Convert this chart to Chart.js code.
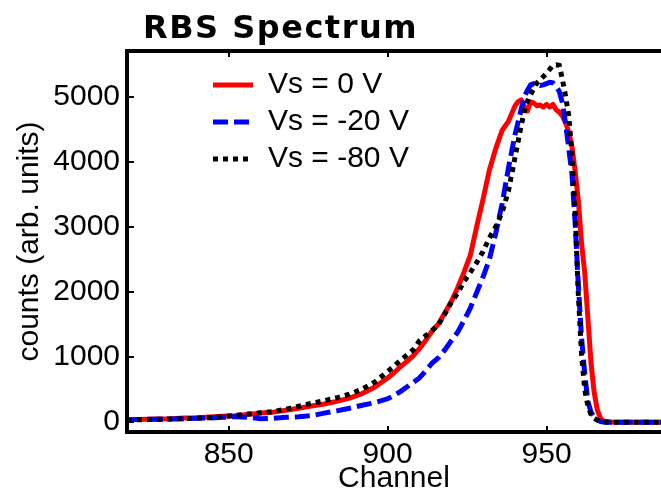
<!DOCTYPE html>
<html>
<head>
<meta charset="utf-8">
<script src="https://cdn.jsdelivr.net/npm/chart.js@4/dist/chart.umd.min.js"></script>
<style>
  html, body { margin: 0; padding: 0; background: #ffffff; }
  #wrap { width: 661px; height: 494px; position: relative; }
</style>
</head>
<body>
<div id="wrap"><canvas id="c" width="661" height="494"></canvas></div>
<script>
const chartTitle = 'RBS Spectrum';
const xAxisTitle = 'Channel';
const yAxisTitle = 'counts (arb. units)';
const seriesLabels = ['Vs = 0 V', 'Vs = -20 V', 'Vs = -80 V'];
const xTicks = [850, 900, 950];
const yTicks = [0, 1000, 2000, 3000, 4000, 5000];

const channels = [
  818,
  820, 824, 828, 832, 836, 840, 844, 848, 852, 856, 860, 864, 868, 872, 876, 880, 884, 888, 892, 896, 900,
  902, 904, 906, 908, 910, 912, 914, 916, 918, 920, 922, 924, 926, 928, 930, 932, 934, 936, 938, 940,
  941, 942, 943, 944, 945, 946, 947, 948, 949, 950, 951, 952, 953, 954, 955, 956, 957, 958, 959, 960,
  961, 962, 963, 964, 965, 966, 967, 968,
  970, 974, 978, 982, 986
];
const countsVs0 = [
  35,
  40, 45, 50, 55, 65, 70, 80, 90, 100, 120, 140, 155, 185, 215, 250, 280, 320, 370, 440, 540, 680,
  760, 850, 930, 1020, 1130, 1260, 1400, 1510, 1680, 1850, 2060, 2300, 2560, 3000, 3420, 3870, 4200, 4480, 4620, 4850,
  4920, 4950, 4850, 4780, 4920, 4900, 4860, 4870, 4840, 4880, 4840, 4880, 4800, 4760, 4700, 4600, 4450, 4230, 3850, 3400,
  2750, 2300, 1600, 900, 450, 180, 60, 15,
  5, 0, 0, 0, 0
];
const countsVs20 = [
  35,
  40, 45, 45, 50, 55, 60, 65, 75, 85, 75, 55, 60, 75, 85, 100, 140, 175, 215, 260, 300, 360,
  410, 470, 540, 610, 680, 790, 910, 990, 1110, 1250, 1380, 1560, 1750, 1990, 2230, 2500, 2900, 3350, 3900, 4400,
  4600, 4800, 5000, 5100, 5180, 5200, 5190, 5170, 5180, 5200, 5220, 5210, 5160, 5080, 4900, 4580, 4200, 3800, 3050, 2100,
  1300, 750, 320, 150, 80, 40, 10, 5,
  0, 0, 0, 0, 0
];
const countsVs80 = [
  30,
  35, 40, 45, 50, 55, 60, 70, 85, 105, 125, 145, 165, 200, 245, 290, 330, 375, 430, 510, 620, 780,
  860, 950, 1030, 1110, 1250, 1330, 1410, 1500, 1660, 1840, 1980, 2160, 2300, 2450, 2620, 2830, 3000, 3220, 3550, 4050,
  4300, 4550, 4780, 4930, 5030, 5130, 5210, 5260, 5310, 5360, 5420, 5480, 5490, 5480, 5260, 5000, 4700, 4100, 3200, 1950,
  1050, 500, 250, 120, 60, 30, 10, 5,
  0, 0, 0, 0, 0
];

const toPoints = (vals) => channels.map((c, i) => ({ x: c, y: vals[i] }));
const FONT = '"Liberation Sans", Arial, sans-serif';

const framePlugin = {
  id: 'frame',
  afterLayout(chart) {
    const lg = chart.legend;
    if (lg) {
      lg.left = 206;
      lg.top = 63;
    }
  },
  afterDraw(chart) {
    const ctx = chart.ctx;
    const a = chart.chartArea;
    const xs = chart.scales.x, ys = chart.scales.y;
    ctx.save();
    ctx.fillStyle = '#000';
    ctx.fillRect(a.left - 2, a.top - 2, a.right - a.left + 2, 4);
    ctx.strokeStyle = '#000';
    ctx.lineWidth = 2;
    ctx.beginPath();
    xs.ticks.forEach(t => {
      const px = Math.round(xs.getPixelForValue(t.value));
      ctx.moveTo(px, a.bottom - 2); ctx.lineTo(px, a.bottom - 6);
      ctx.moveTo(px, a.top + 2); ctx.lineTo(px, a.top + 6);
    });
    ys.ticks.forEach(t => {
      const py = Math.round(ys.getPixelForValue(t.value));
      ctx.moveTo(a.left + 2, py); ctx.lineTo(a.left + 7, py);
    });
    ctx.stroke();
    ctx.font = 'bold 32px "DejaVu Sans", sans-serif';
    try { ctx.letterSpacing = '1.5px'; } catch (e) {}
    ctx.textBaseline = 'alphabetic';
    ctx.textAlign = 'left';
    ctx.fillText(chartTitle, 143, 38);
    ctx.restore();
  }
};

new Chart(document.getElementById('c'), {
  type: 'line',
  data: {
    datasets: [
      { label: seriesLabels[0], data: toPoints(countsVs0), borderColor: '#ff0000', backgroundColor: '#ff0000',
        borderWidth: 5, pointRadius: 0, tension: 0, order: 3, borderJoinStyle: 'round' },
      { label: seriesLabels[1], data: toPoints(countsVs20), borderColor: '#0000ff', backgroundColor: '#0000ff',
        borderWidth: 5, borderDash: [15, 6], pointRadius: 0, tension: 0, order: 2 },
      { label: seriesLabels[2], data: toPoints(countsVs80), borderColor: '#000000', backgroundColor: '#000000',
        borderWidth: 5, borderDash: [5, 5], pointRadius: 0, tension: 0, order: 1 }
    ]
  },
  options: {
    responsive: false,
    animation: false,
    devicePixelRatio: 1,
    layout: { padding: { top: 51, left: 0, right: 0, bottom: 0 } },
    plugins: {
      title: { display: false },
      tooltip: { enabled: false },
      legend: {
        display: true,
        position: 'chartArea',
        align: 'start',
        labels: {
          usePointStyle: true,
          pointStyle: 'line',
          pointStyleWidth: 40,
          padding: 7,
          color: '#000',
          font: { family: FONT, size: 30 },
          sort: (a, b) => a.datasetIndex - b.datasetIndex,
          generateLabels: (chart) => {
            const items = Chart.defaults.plugins.legend.labels.generateLabels(chart);
            return items.map(it => {
              const ds = chart.data.datasets[it.datasetIndex];
              return Object.assign(it, {
                lineDash: ds.borderDash || [],
                lineWidth: ds.borderWidth,
                strokeStyle: ds.borderColor,
                fillStyle: ds.borderColor,
                pointStyle: 'line'
              });
            });
          }
        }
      }
    },
    scales: {
      x: {
        type: 'linear',
        min: 818,
        max: 986,
        afterBuildTicks: (s) => { s.ticks = xTicks.map(v => ({ value: v })); },
        afterFit: (s) => { s.height = 62; },
        grid: { display: false, drawTicks: false },
        border: { display: true, color: '#000', width: 4 },
        ticks: { color: '#000', padding: 8, maxRotation: 0, font: { family: FONT, size: 30, lineHeight: 1 },
                 callback: (v) => String(v) },
        title: { display: true, text: xAxisTitle, color: '#000', font: { family: FONT, size: 30, lineHeight: 1 },
                 padding: { top: 0, bottom: 0 } }
      },
      y: {
        type: 'linear',
        min: -150,
        max: 5700,
        afterBuildTicks: (s) => { s.ticks = yTicks.map(v => ({ value: v })); },
        afterFit: (s) => { s.width = 127; },
        grid: { display: false, drawTicks: false },
        border: { display: true, color: '#000', width: 4 },
        ticks: { color: '#000', padding: 7, font: { family: FONT, size: 30, lineHeight: 1 },
                 callback: (v) => String(v) },
        title: { display: true, text: yAxisTitle, color: '#000', font: { family: FONT, size: 30, lineHeight: 1 },
                 padding: { top: 15, bottom: 0 } }
      }
    }
  },
  plugins: [framePlugin]
});
</script>
</body>
</html>
